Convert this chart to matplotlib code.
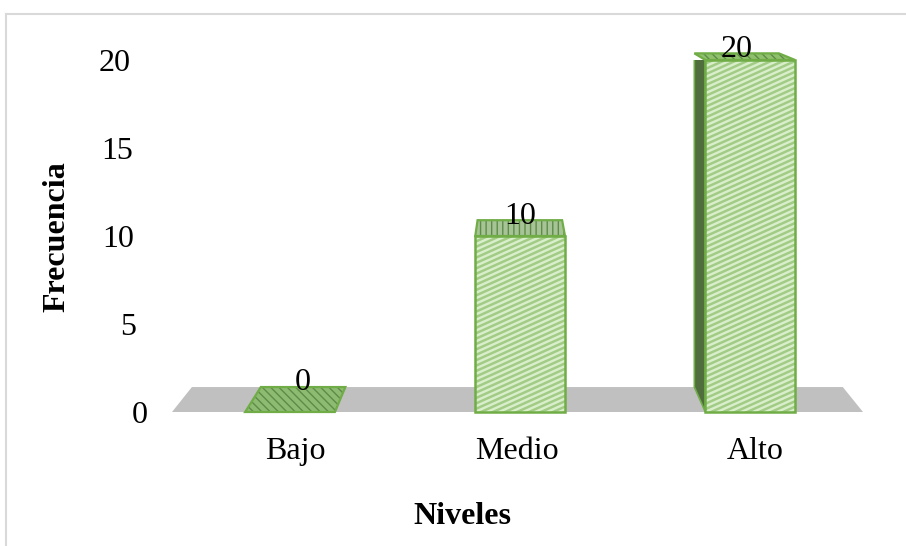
import numpy as np
import matplotlib.pyplot as plt
from matplotlib.patches import Polygon
from matplotlib.lines import Line2D
from matplotlib.collections import LineCollection
from matplotlib.transforms import IdentityTransform, ScaledTranslation

categorias = ['Bajo', 'Medio', 'Alto']
valores = [0, 10, 20]
yticks = [0, 5, 10, 15, 20]

plt.rcParams['font.family'] = ['Liberation Serif', 'DejaVu Serif']

W, H = 906, 546
fig = plt.figure(figsize=(W / 100, H / 100), dpi=100)
ax = fig.add_axes([172 / W, 1 - 412 / H, (863 - 172) / W, (412 - 60) / H])
ax.set_xlim(-0.513, 2.49)
ax.set_ylim(0, 20)
for s in ax.spines.values():
    s.set_visible(False)
ax.set_facecolor('none')

x = np.arange(len(categorias))
ax.set_xticks(x)
ax.set_xticklabels(categorias)
ax.set_yticks(yticks)
ax.tick_params(axis='y', length=0, pad=26.6, labelsize=23)
ax.tick_params(axis='x', length=0, pad=18, labelsize=23)

# the value axis follows the slanted back wall: nudge labels sideways
dx_px = [13, 1, -1, -2, -4]
for lab, d in zip(ax.get_yticklabels(), dx_px):
    lab.set_transform(lab.get_transform() + ScaledTranslation(d / 100, 0, fig.dpi_scale_trans))
dxc_px = [5, -3, 5]
for lab, d in zip(ax.get_xticklabels(), dxc_px):
    lab.set_transform(lab.get_transform() + ScaledTranslation(d / 100, 0, fig.dpi_scale_trans))

# simple perspective: back point moves toward a vanishing point
VP = np.array([515.0, H + 68.0])
T = np.array([0.058, 0.052])


def atras(pts):
    d = ax.transData.transform(pts)
    b = d + T * (VP - d)
    return ax.transData.inverted().transform(b)


# floor
x0, x1 = ax.get_xlim()
piso = np.array([(x0, 0), (x1, 0)])
pb = atras(piso)
ax.add_patch(Polygon([piso[0], piso[1], pb[1], pb[0]], closed=True,
                     facecolor='#c0c0c0', edgecolor='none', zorder=1, clip_on=False))

w = 0.39
borde = '#70ad47'
top_hatch = ['\\\\\\\\', '|||', '\\\\\\\\']
top_color = ['#8dbb72', '#a7c496', '#8fc06c']

bars = ax.bar(x, valores, width=w, color='#d9eecb', linewidth=0, zorder=3)

for i, (xi, v) in enumerate(zip(x, valores)):
    a, b = xi - w / 2, xi + w / 2
    front = np.array([(a, 0), (b, 0), (b, v), (a, v)])
    bk = atras(front)
    # side faces
    if bk[0][0] < a and v > 0:
        ax.add_patch(Polygon([front[0], front[3], bk[3], bk[0]], closed=True,
                             facecolor='#4f6d3d', edgecolor=borde, lw=1.2, zorder=2.5))
    if bk[1][0] > b and v > 0 and bk[1][0] - b > 3 / 230:
        ax.add_patch(Polygon([front[1], front[2], bk[2], bk[1]], closed=True,
                             facecolor='#4f6d3d', edgecolor=borde, lw=1.2, zorder=2.5))
    # top face
    tapa = [front[3], front[2], bk[2], bk[3]]
    ax.add_patch(Polygon(tapa, closed=True, facecolor=top_color[i],
                         edgecolor='#5e8c48', hatch=top_hatch[i], lw=0, zorder=2.8,
                         clip_on=False))
    ax.add_patch(Polygon(tapa, closed=True, fill=False, edgecolor=borde, lw=1.6,
                         zorder=4, clip_on=False))

    # front face hatch lines (shallow diagonal)
    if v > 0:
        d = ax.transData.transform(front)
        xmn, xmx = d[:, 0].min(), d[:, 0].max()
        ymn, ymx = d[:, 1].min(), d[:, 1].max()
        slope = 0.45
        segs = []
        for c in np.arange(ymn - slope * (xmx - xmn), ymx + 6, 5.4):
            segs.append([(xmn, c), (xmx, c + slope * (xmx - xmn))])
        lc = LineCollection(segs, colors='#a2cc86', linewidths=1.8,
                            transform=IdentityTransform(), zorder=3.5)
        ax.add_collection(lc)
        lc.set_clip_path(bars[i])
        ax.add_patch(Polygon(front, closed=True, fill=False, edgecolor=borde,
                             lw=1.8, zorder=4, clip_on=False))

    # value label
    tc = atras(np.array([(xi, v)]))[0]
    ax.annotate(str(v), xy=tc, xytext=(0, 3), textcoords='offset points',
                ha='center', va='center', fontsize=23, zorder=6,
                annotation_clip=False)

fig.text(57 / W, 1 - 237 / H, 'Frecuencia', rotation=90, fontsize=23,
         fontweight='bold', ha='center', va='center')
fig.text(462 / W, 1 - 517 / H, 'Niveles', fontsize=23, fontweight='bold',
         ha='center', va='center')

# light chart border
fig.add_artist(Line2D([5.5 / W, 5.5 / W], [0, 1 - 14 / H], transform=fig.transFigure,
                      color='#d9d9d9', lw=1.5))
fig.add_artist(Line2D([5.5 / W, 1], [1 - 14 / H, 1 - 14 / H], transform=fig.transFigure,
                      color='#d9d9d9', lw=1.5))

fig.savefig('out.png', dpi=100)
